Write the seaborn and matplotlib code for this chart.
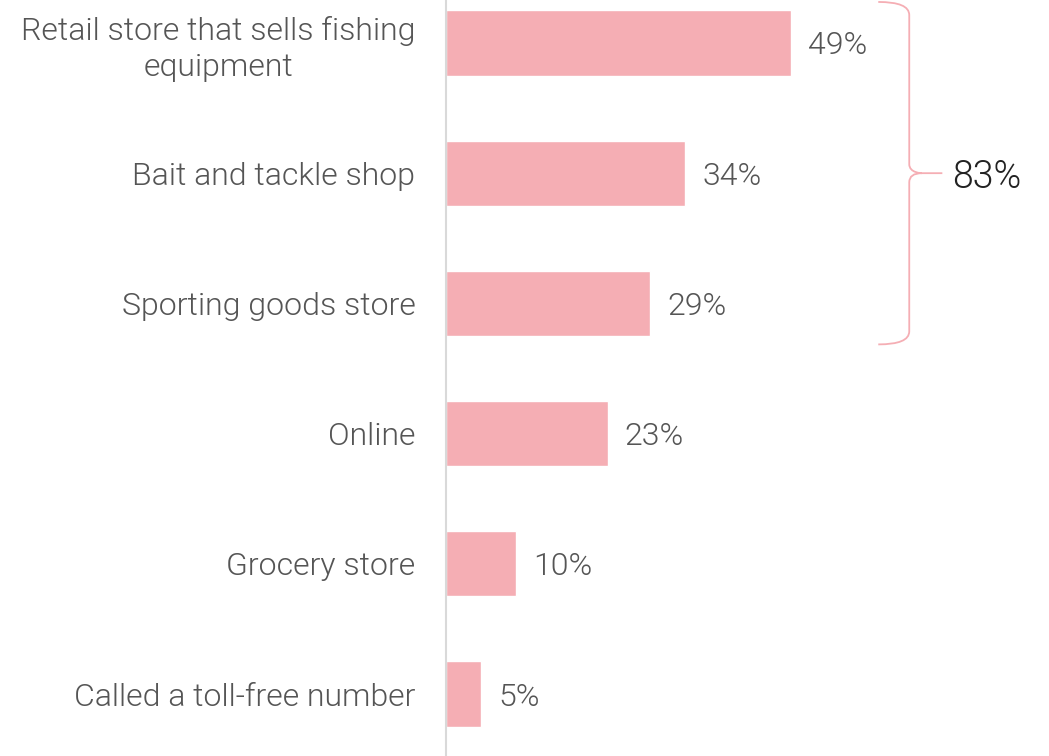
import matplotlib
matplotlib.use('Agg')
import matplotlib.pyplot as plt
import matplotlib.patches as mpatches
from matplotlib.path import Path
import pandas as pd
import seaborn as sns

categories = ['Retail store that sells fishing\nequipment', 'Bait and tackle shop',
              'Sporting goods store', 'Online', 'Grocery store', 'Called a toll-free number']
values = [49, 34, 29, 23, 10, 5]
brace_total = '83%'

bar_color = '#f5aeb4'
text_color = '#555555'

sns.set_style('white')
plt.rcParams['font.family'] = ['Roboto', 'DejaVu Sans']

df = pd.DataFrame({'channel': categories, 'pct': values})

fig = plt.figure(figsize=(10.49, 7.56), dpi=100)
ax = fig.add_axes([446 / 1049, 0, 603 / 1049, 1])
sns.barplot(data=df, x='pct', y='channel', color=bar_color, width=0.5,
            saturation=1, ax=ax)

ax.set_xlim(0, 85.65)
ax.set_ylim(5.476, -0.33)
ax.set_xlabel('')
ax.set_ylabel('')
ax.set_xticks([])
for s in ['top', 'right', 'bottom']:
    ax.spines[s].set_visible(False)
ax.spines['left'].set_color('#d9d9d9')
ax.spines['left'].set_linewidth(1.5)
ax.tick_params(axis='y', length=0, pad=22)
for lbl in ax.get_yticklabels():
    lbl.set_fontsize(23)
    lbl.set_fontweight(300)
    lbl.set_color(text_color)
    lbl.set_horizontalalignment('right')
    lbl.set_multialignment('center')
    lbl.set_linespacing(1.3)

for i, v in enumerate(values):
    ax.text(v + 2.4, i, f'{v}%', va='center_baseline', ha='left', fontsize=23,
            fontweight=300, color=text_color)

# curly brace over the first three bars
xv, xl, xt, xn = 65.8, 61.4, 67.6, 70.5
yt, yb, yc = -0.315, 2.315, 1.0
verts = [(xl, yt), (xv, yt), (xv, yt + 0.1),
         (xv, yc - 0.07),
         (xv, yc), (xt, yc), (xt, yc),
         (xn, yc),
         (xt, yc),
         (xv, yc), (xv, yc + 0.07),
         (xv, yb - 0.1),
         (xv, yb), (xl, yb)]
codes = [Path.MOVETO, Path.CURVE3, Path.CURVE3,
         Path.LINETO,
         Path.CURVE4, Path.CURVE4, Path.CURVE4,
         Path.LINETO,
         Path.MOVETO,
         Path.CURVE3, Path.CURVE3,
         Path.LINETO,
         Path.CURVE3, Path.CURVE3]
ax.add_patch(mpatches.PathPatch(Path(verts, codes), fill=False,
                                edgecolor=bar_color, lw=1.3, clip_on=False))
ax.text(xn + 1.4, yc, brace_total, va='center_baseline', ha='left', fontsize=27,
        fontweight=300, color='#222222')

fig.savefig('out.png', dpi=100)
